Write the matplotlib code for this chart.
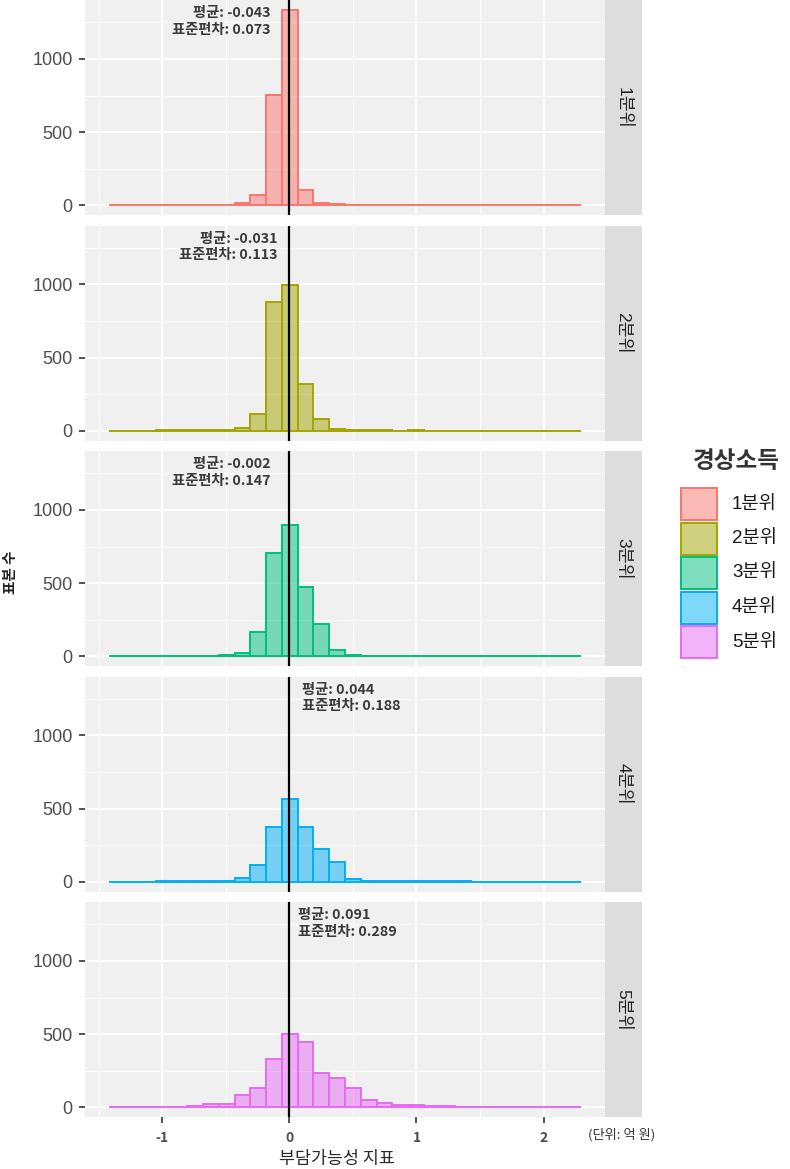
import numpy as np
import matplotlib
matplotlib.use("Agg")
import matplotlib.pyplot as plt
from matplotlib.patches import Rectangle

plt.rcParams['font.family'] = ['Liberation Sans', 'Noto Sans CJK KR', 'DejaVu Sans']
KR = ['Noto Sans CJK KR', 'DejaVu Sans']

# income quintile groups
groups = ['1분위', '2분위', '3분위', '4분위', '5분위']
colors = ['#F8766D', '#A3A500', '#00BF7D', '#00B0F6', '#E76BF3']

# histogram range (30 bins) of the affordability index
x_min, x_max = -1.421, 2.297
n_bins = 30

# counts per bin for each quintile
counts_q1 = [1, 0, 0, 0, 1, 1, 1, 2, 14, 73, 756, 1336, 107, 12, 5, 4, 3, 2, 1, 1, 1, 1, 0, 0, 0, 0, 0, 0, 0, 1]
counts_q2 = [1, 1, 1, 2, 2, 3, 3, 6, 20, 111, 880, 998, 320, 77, 15, 4, 2, 2, 1, 2, 1, 1, 1, 1, 1, 1, 0, 0, 0, 1]
counts_q3 = [1, 1, 1, 2, 3, 4, 4, 10, 20, 168, 705, 898, 475, 220, 43, 10, 4, 3, 2, 2, 1, 1, 1, 1, 1, 1, 0, 0, 0, 1]
counts_q4 = [1, 1, 1, 2, 3, 2, 3, 8, 27, 111, 373, 564, 375, 223, 136, 20, 8, 3, 2, 2, 3, 4, 2, 1, 1, 1, 1, 0, 0, 1]
counts_q5 = [2, 2, 3, 3, 4, 10, 25, 22, 86, 132, 327, 498, 443, 232, 200, 130, 50, 30, 15, 12, 8, 5, 4, 3, 3, 2, 2, 3, 2, 2]
all_counts = [counts_q1, counts_q2, counts_q3, counts_q4, counts_q5]

# summary stats shown in each panel
means = ['-0.043', '-0.031', '-0.002', '0.044', '0.091']
sds = ['0.073', '0.113', '0.147', '0.188', '0.289']
vline_x = 0

# annotation anchor (x in data units, alignment)
ann_x = [-0.145, -0.09, -0.145, 0.1, 0.07]
ann_ha = ['right', 'right', 'right', 'left', 'left']

W, H = 790, 1169
fig = plt.figure(figsize=(W / 100, H / 100), dpi=100)

edges = np.linspace(x_min, x_max, n_bins + 1)
bw = edges[1] - edges[0]
span = x_max - x_min
xlim = (x_min - 0.05 * span, x_max + 0.05 * span)
ymax = max(max(c) for c in all_counts)
ylim = (-0.05 * ymax, 1.05 * ymax)

panel_left, panel_right = 85, 605
strip_left, strip_right = 605, 642
panel_h = 215
step = 225.5

for i, (cnt, col) in enumerate(zip(all_counts, colors)):
    top = i * step
    ax = fig.add_axes([panel_left / W, 1 - (top + panel_h) / H,
                       (panel_right - panel_left) / W, panel_h / H])
    ax.set_facecolor('#F0F0F0')
    ax.bar(edges[:-1], cnt, width=bw, align='edge', color=col, alpha=0.5,
           edgecolor='none', zorder=2)
    ax.bar(edges[:-1], cnt, width=bw, align='edge', facecolor='none',
           edgecolor=col, linewidth=1.4, zorder=3)
    ax.axvline(vline_x, color='black', linewidth=1.6, zorder=4)
    ax.set_xlim(xlim)
    ax.set_ylim(ylim)
    ax.set_xticks([-1, 0, 1, 2])
    ax.set_xticks([-1.5, -0.5, 0.5, 1.5], minor=True)
    ax.set_yticks([0, 500, 1000])
    ax.set_yticks([250, 750, 1250], minor=True)
    ax.grid(which='major', color='white', linewidth=1.3, zorder=0)
    ax.grid(which='minor', color='white', linewidth=0.8, zorder=0)
    ax.set_axisbelow(True)
    for s in ax.spines.values():
        s.set_visible(False)
    ax.tick_params(axis='y', which='major', length=4, width=1.2, pad=5,
                   color='#333333', labelcolor='#4D4D4D', labelsize=13)
    ax.tick_params(axis='both', which='minor', length=0)
    if i < 4:
        ax.tick_params(axis='x', which='major', length=0, labelbottom=False)
    else:
        ax.tick_params(axis='x', which='major', length=4, width=1.2, pad=6,
                       color='#333333')
        ax.set_xticklabels(['-1', '0', '1', '2'], fontsize=10, fontweight='bold',
                           color='#4D4D4D', family=KR)
    ax.text(ann_x[i], 1255, f'평균: {means[i]}\n표준편차: {sds[i]}',
            ha=ann_ha[i], va='center', multialignment=ann_ha[i],
            fontsize=10.3, fontweight='bold', color='#3A3A3A', linespacing=1.25,
            family=KR, zorder=5)

    # facet strip
    sax = fig.add_axes([strip_left / W, 1 - (top + panel_h) / H,
                        (strip_right - strip_left) / W, panel_h / H])
    sax.set_facecolor('#DDDDDD')
    sax.set_xticks([])
    sax.set_yticks([])
    for s in sax.spines.values():
        s.set_visible(False)
    sax.text(0.5, 0.5, groups[i], rotation=-90, ha='center', va='center',
             fontsize=12.5, color='#222222', transform=sax.transAxes)

fig.text(337 / W, 1 - 1159 / H, '부담가능성 지표', ha='center', va='center',
         fontsize=12.5, color='#2B2B2B', family=KR)
fig.text(10 / W, 1 - 572 / H, '표본 수', rotation=90, ha='center', va='center',
         fontsize=10.5, fontweight='bold', color='#222222', family=KR)
fig.text(622 / W, 1 - 1135 / H, '(단위: 억 원)', ha='center', va='center',
         fontsize=9.5, color='#333333', family=KR)

# legend (drawn by hand, ggplot style)
fig.text(736 / W, 1 - 461 / H, '경상소득', ha='center', va='center',
         fontsize=17, fontweight='bold', color='#333333', family=KR)
for j, (g, c) in enumerate(zip(groups, colors)):
    ktop = 488 + j * 34.5
    fig.add_artist(Rectangle((681 / W, 1 - (ktop + 32) / H), 36 / W, 32 / H,
                             transform=fig.transFigure,
                             facecolor=matplotlib.colors.to_rgba(c, 0.5),
                             edgecolor=c, linewidth=1.4))
    fig.text(732 / W, 1 - (ktop + 16) / H, g, ha='left', va='center',
             fontsize=13.5, color='#1A1A1A')

fig.savefig('out.png', dpi=100)
